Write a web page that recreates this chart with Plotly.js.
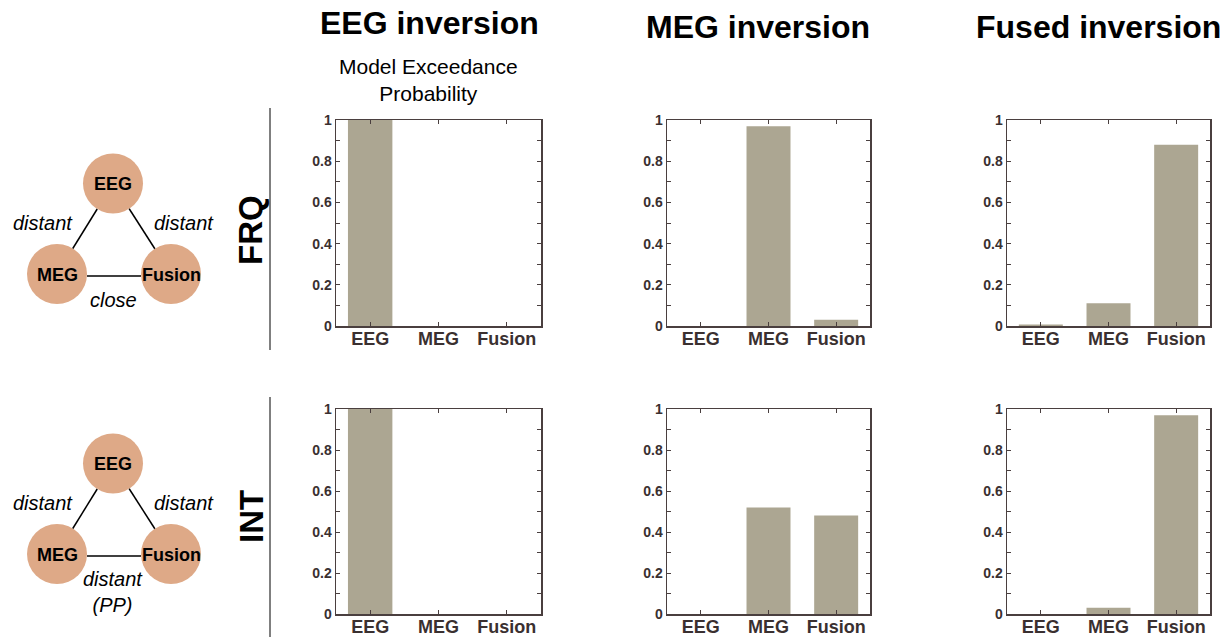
<!DOCTYPE html>
<html>
<head>
<meta charset="utf-8">
<script src="https://cdn.plot.ly/plotly-3.0.1.min.js"></script>
<style>html,body{margin:0;padding:0;background:#fff;}#chart{width:1231px;height:637px;}</style>
</head>
<body>
<div id="chart"></div>
<script>
// ---- data ----
var categories = ['EEG', 'MEG', 'Fusion'];
var frqEEGInversion   = [1.00, 0.00, 0.00];
var frqMEGInversion   = [0.00, 0.97, 0.03];
var frqFusedInversion = [0.007, 0.11, 0.88];
var intEEGInversion   = [1.00, 0.00, 0.00];
var intMEGInversion   = [0.00, 0.52, 0.48];
var intFusedInversion = [0.00, 0.03, 0.97];
var columnTitles = ['EEG inversion', 'MEG inversion', 'Fused inversion'];
var rowLabels = ['FRQ', 'INT'];
var yTickVals = [0, 0.2, 0.4, 0.6, 0.8, 1];
var yTickText = ['0', '0.2', '0.4', '0.6', '0.8', '1'];

// ---- layout helpers ----
var W = 1231, H = 637;
function px(x) { return x / W; }
function py(y) { return 1 - y / H; }
var FONT = 'Liberation Sans, Arial, Helvetica, sans-serif';
var BAR = 'rgb(172,166,146)';
var AX = '#4a3f3f';
var TXT = '#3a3030';

var colX = [[336, 541], [667, 870], [1007, 1210]];
var rowY = [[120, 326], [409, 614]];
var series = [[frqEEGInversion, frqMEGInversion, frqFusedInversion],
              [intEEGInversion, intMEGInversion, intFusedInversion]];

var data = [];
var layout = {
  width: W, height: H,
  margin: {l: 0, r: 0, t: 0, b: 0},
  paper_bgcolor: '#fff', plot_bgcolor: '#fff',
  showlegend: false,
  font: {family: FONT, color: TXT},
  shapes: [], annotations: []
};

var n = 0;
for (var r = 0; r < 2; r++) {
  for (var c = 0; c < 3; c++) {
    n++;
    var xa = 'xaxis' + (n === 1 ? '' : n), ya = 'yaxis' + (n === 1 ? '' : n);
    data.push({
      type: 'bar', x: categories, y: series[r][c],
      xaxis: 'x' + (n === 1 ? '' : n), yaxis: 'y' + (n === 1 ? '' : n),
      width: 0.65, marker: {color: BAR, line: {width: 0}}, hoverinfo: 'skip'
    });
    layout[xa] = {
      domain: [px(colX[c][0]), px(colX[c][1])],
      anchor: 'y' + (n === 1 ? '' : n),
      type: 'category', range: [-0.5, 2.5], fixedrange: true,
      showline: true, linecolor: AX, linewidth: 1.5, mirror: 'ticks',
      ticks: 'inside', ticklen: 4, tickcolor: AX, tickwidth: 1,
      ticklabelstandoff: -4,
      showgrid: false, zeroline: false,
      tickfont: {family: FONT, size: 18, color: TXT, weight: 'bold'}
    };
    layout[ya] = {
      domain: [py(rowY[r][1]), py(rowY[r][0])],
      anchor: 'x' + (n === 1 ? '' : n),
      range: [0, 1], fixedrange: true,
      tickvals: yTickVals, ticktext: yTickText,
      showline: true, linecolor: AX, linewidth: 1.5, mirror: 'ticks',
      ticks: 'inside', ticklen: 4, tickcolor: AX, tickwidth: 1,
      minor: {dtick: 0.1, ticks: 'inside', ticklen: 4, tickcolor: AX, tickwidth: 1, showgrid: false},
      showgrid: false, zeroline: false,
      tickfont: {family: FONT, size: 14, color: TXT, weight: 'bold'}
    };
  }
}

// column titles
var titleX = [429, 758, 1098], titleY = [23, 27, 27];
for (var i = 0; i < 3; i++) {
  layout.annotations.push({
    xref: 'paper', yref: 'paper', x: px(titleX[i]), y: py(titleY[i]),
    xanchor: 'center', yanchor: 'middle', showarrow: false,
    text: '<b>' + columnTitles[i] + '</b>',
    font: {family: FONT, size: 32, color: '#000'}
  });
}
layout.annotations.push({
  xref: 'paper', yref: 'paper', x: px(428), y: py(80),
  xanchor: 'center', yanchor: 'middle', showarrow: false,
  text: 'Model Exceedance<br>Probability',
  font: {family: FONT, size: 21, color: '#000'}
});
// row labels
var rowLabelY = [230, 517];
for (var k = 0; k < 2; k++) {
  layout.annotations.push({
    xref: 'paper', yref: 'paper', x: px(251), y: py(rowLabelY[k]),
    xanchor: 'center', yanchor: 'middle', showarrow: false, textangle: -90,
    text: '<b>' + rowLabels[k] + '</b>',
    font: {family: FONT, size: 33, color: '#000'}
  });
  // separator line
  var ly = k === 0 ? [108, 350] : [397, 637];
  layout.shapes.push({type: 'line', xref: 'paper', yref: 'paper',
    x0: px(270), x1: px(270), y0: py(ly[0]), y1: py(ly[1]),
    line: {color: '#000', width: 1}});
}

// diagrams
var nodeNames = ['EEG', 'MEG', 'Fusion'];
var edgeLabelSets = [
  ['distant', 'distant', 'close'],
  ['distant', 'distant', 'distant<br>(PP)']
];
var CIRC = 'rgb(222,169,135)';
for (var d = 0; d < 2; d++) {
  var off = d * 280;
  var nodes = [[113, 183.5 + off], [57, 274 + off], [171, 274 + off]];
  var R = 30;
  [[0, 1], [0, 2]].forEach(function (e) {
    var a = nodes[e[0]], b = nodes[e[1]];
    var dx = b[0] - a[0], dy = b[1] - a[1], L = Math.sqrt(dx * dx + dy * dy);
    var ux = dx / L, uy = dy / L;
    layout.shapes.push({type: 'line', xref: 'paper', yref: 'paper',
      x0: px(a[0] + R * ux), y0: py(a[1] + R * uy),
      x1: px(b[0] - R * ux), y1: py(b[1] - R * uy),
      line: {color: '#000', width: 1.5}});
  });
  layout.shapes.push({type: 'line', xref: 'paper', yref: 'paper',
    x0: px(nodes[1][0] + R), y0: py(276 + off), x1: px(nodes[2][0] - R), y1: py(276 + off),
    line: {color: '#000', width: 1.5}});
  nodes.forEach(function (p, j) {
    layout.shapes.push({type: 'circle', xref: 'paper', yref: 'paper',
      x0: px(p[0] - R), x1: px(p[0] + R), y0: py(p[1] + R), y1: py(p[1] - R),
      fillcolor: CIRC, line: {width: 0}, layer: 'below'});
    layout.annotations.push({xref: 'paper', yref: 'paper', x: px(p[0]), y: py(p[1] + 1),
      xanchor: 'center', yanchor: 'middle', showarrow: false,
      text: '<b>' + nodeNames[j] + '</b>', font: {family: FONT, size: 18, color: '#000'}});
  });
  var labs = edgeLabelSets[d];
  var labPos = [[43, 223 + off], [184, 223 + off], [113, d === 0 ? 300 : 591.5]];
  labs.forEach(function (t, j) {
    layout.annotations.push({xref: 'paper', yref: 'paper', x: px(labPos[j][0]), y: py(labPos[j][1]),
      xanchor: 'center', yanchor: 'middle', showarrow: false,
      text: '<i>' + t + '</i>', font: {family: FONT, size: 20, color: '#000'}});
  });
}

Plotly.newPlot('chart', data, layout, {staticPlot: true, displayModeBar: false});
</script>
</body>
</html>
